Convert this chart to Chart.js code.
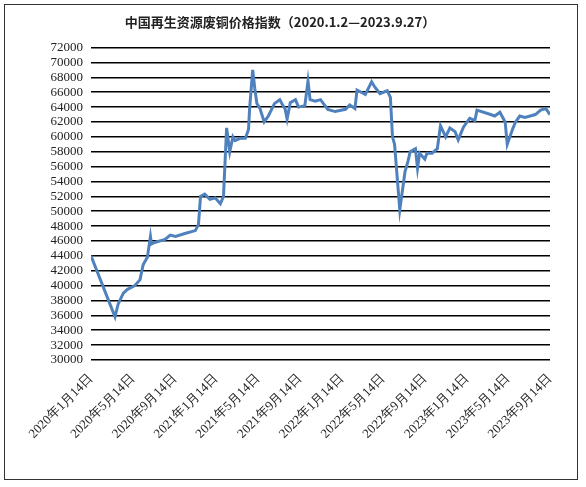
<!DOCTYPE html>
<html><head><meta charset="utf-8">
<script src="https://cdn.jsdelivr.net/npm/chart.js@4"></script>
<style>
html,body{margin:0;padding:0;background:#fff;}
#box{position:absolute;left:4px;top:4px;width:574px;height:476px;border:1px solid #333;box-sizing:border-box;}
#c{position:absolute;left:0;top:0;}
</style></head><body>
<div id="box"></div>
<canvas id="c" width="586" height="487"></canvas>
<script>
const title = "中国再生资源废铜价格指数（2020.1.2—2023.9.27）";
const tickLabels = ["2020年1月14日","2020年5月14日","2020年9月14日","2021年1月14日","2021年5月14日","2021年9月14日","2022年1月14日","2022年5月14日","2022年9月14日","2023年1月14日","2023年5月14日","2023年9月14日"];
const months = [0,2.3,2.6,3.1,3.5,4.2,4.7,5.0,5.4,5.7,5.8,6.1,7.1,7.6,8.1,9.0,10.0,10.3,10.5,10.9,11.4,11.9,12.4,12.7,13.0,13.3,13.6,13.8,14.3,14.8,15.1,15.2,15.5,15.7,15.9,16.2,16.6,17.0,17.6,18.1,18.4,18.6,18.8,19.1,19.6,19.9,20.5,20.8,21.0,21.5,22.0,22.7,23.4,24.4,24.8,25.3,25.5,26.3,26.9,27.2,27.7,28.4,28.7,28.9,29.1,29.6,30.1,30.4,30.6,31.1,31.3,31.5,32.0,32.2,32.7,33.2,33.5,34.0,34.4,34.9,35.2,35.7,36.3,36.8,37.0,38.3,38.7,39.2,39.7,39.9,40.4,40.7,41.1,41.6,42.6,43.1,43.6,44.0];
const values = [44000,35800,37500,39000,39500,40000,40800,42800,43800,46600,45600,45800,46200,46800,46600,47000,47400,48200,52000,52300,51600,51800,51000,52000,61200,58000,60000,59500,59800,59800,61000,63700,69000,66500,64500,63800,62000,62800,64500,65000,64200,63800,62400,64600,65000,64000,64200,67500,65000,64800,65000,63700,63400,63700,64300,63800,66300,65700,67400,66700,65800,66200,65300,60000,59000,50200,55300,56800,58000,58400,55800,57800,57000,57800,57800,58400,61500,60000,61200,60700,59600,61300,62500,62200,63600,63000,62800,63300,62000,59000,61000,62000,62800,62600,63000,63600,63800,63000];
const data = months.map((m,i)=>({x:m,y:values[i]}));
new Chart(document.getElementById('c'),{
  type:'line',
  data:{datasets:[{data,borderColor:'#4f81bd',borderWidth:3,pointRadius:0,tension:0,fill:false}]},
  options:{
    responsive:false,animation:false,
    layout:{padding:{left:10,right:36,top:8,bottom:0}},
    plugins:{legend:{display:false},tooltip:{enabled:false},
      title:{display:true,text:title,color:'#222',font:{family:'Noto Sans CJK SC',size:13,weight:'bold'},padding:{top:6,bottom:18}}},
    scales:{
      x:{type:'linear',min:0,max:44,
        afterBuildTicks:s=>{s.ticks=tickLabels.map((t,i)=>({value:i*4}));},
        afterFit:s=>{s.height=127;},
        grid:{display:false},border:{display:false},
        ticks:{autoSkip:false,maxRotation:45,minRotation:45,color:'#222',font:{family:'Liberation Serif',size:13},callback:(v)=>tickLabels[Math.round(v/4)]}},
      y:{min:30000,max:72000,
        afterFit:s=>{s.width=81;},
        grid:{color:'#000',lineWidth:1.5,drawTicks:false},border:{display:false},
        ticks:{stepSize:2000,autoSkip:false,color:'#222',padding:8,font:{family:'Liberation Serif',size:13},callback:v=>String(v)}}
    }
  }
});
</script></body></html>
